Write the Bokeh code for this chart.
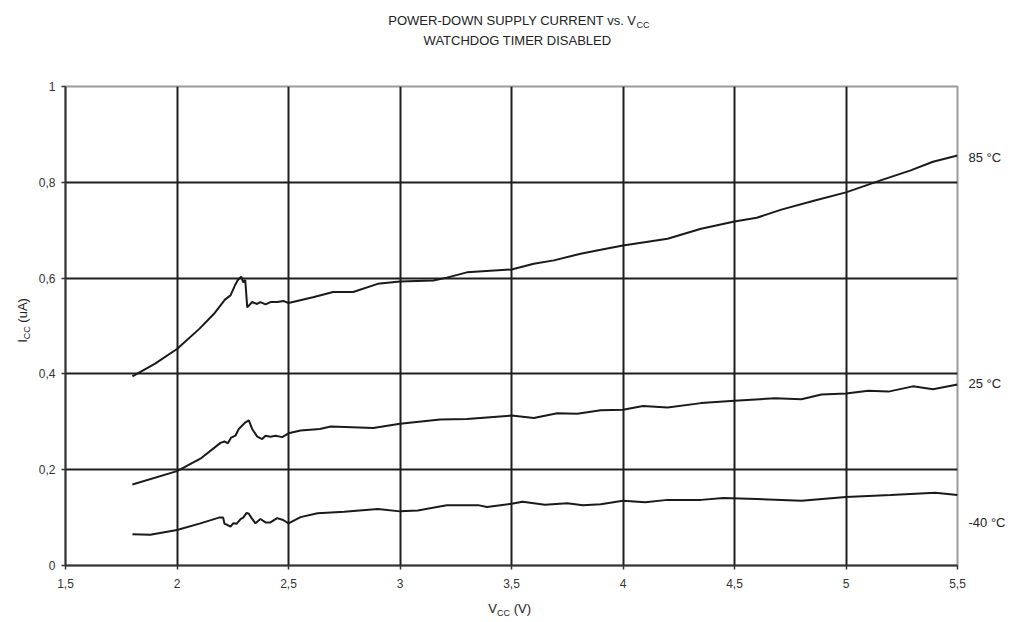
import math
from bokeh.plotting import figure
from bokeh.layouts import column, row
from bokeh.models import Label, FixedTicker, Range1d
from bokeh.embed import file_html
from bokeh.resources import INLINE

# ---- data ----
series_names = ["85 °C", "25 °C", "-40 °C"]

v_85 = [1.80, 1.90, 2.00, 2.10, 2.165, 2.215, 2.24, 2.26, 2.273, 2.288, 2.297, 2.306, 2.315,
        2.337, 2.359, 2.374, 2.397, 2.419, 2.449, 2.479, 2.50, 2.61, 2.70, 2.79, 2.90, 3.00,
        3.15, 3.21, 3.30, 3.50, 3.60, 3.69, 3.81, 3.90, 4.00, 4.20, 4.35, 4.50, 4.60, 4.71,
        4.86, 5.00, 5.155, 5.29, 5.39, 5.50]
i_85 = [0.395, 0.421, 0.452, 0.494, 0.525, 0.555, 0.564, 0.585, 0.596, 0.603, 0.591, 0.596, 0.539,
        0.550, 0.546, 0.550, 0.545, 0.550, 0.550, 0.552, 0.548, 0.560, 0.571, 0.571, 0.588, 0.593,
        0.595, 0.601, 0.612, 0.618, 0.630, 0.637, 0.651, 0.659, 0.668, 0.682, 0.703, 0.718, 0.726,
        0.743, 0.762, 0.779, 0.804, 0.825, 0.843, 0.856]

v_25 = [1.80, 2.00, 2.105, 2.195, 2.213, 2.228, 2.243, 2.262, 2.277, 2.307, 2.322, 2.337, 2.36,
        2.382, 2.397, 2.419, 2.442, 2.472, 2.50, 2.554, 2.64, 2.69, 2.88, 3.00, 3.18, 3.30, 3.50,
        3.60, 3.705, 3.795, 3.90, 4.00, 4.09, 4.20, 4.35, 4.50, 4.68, 4.80, 4.89, 5.00, 5.10,
        5.19, 5.30, 5.39, 5.50]
i_25 = [0.169, 0.197, 0.223, 0.256, 0.259, 0.255, 0.267, 0.271, 0.285, 0.299, 0.303, 0.285, 0.269,
        0.264, 0.271, 0.269, 0.271, 0.268, 0.276, 0.282, 0.285, 0.290, 0.287, 0.296, 0.305, 0.306,
        0.313, 0.308, 0.318, 0.317, 0.324, 0.325, 0.333, 0.330, 0.339, 0.344, 0.349, 0.347, 0.357,
        0.359, 0.365, 0.363, 0.374, 0.368, 0.378]

v_m40 = [1.80, 1.88, 2.00, 2.105, 2.188, 2.207, 2.213, 2.225, 2.24, 2.252, 2.267, 2.285, 2.297,
         2.312, 2.322, 2.333, 2.352, 2.374, 2.397, 2.419, 2.449, 2.476, 2.50, 2.554, 2.63, 2.75,
         2.90, 3.00, 3.08, 3.21, 3.35, 3.39, 3.50, 3.55, 3.65, 3.75, 3.82, 3.90, 4.00, 4.10,
         4.20, 4.35, 4.45, 4.60, 4.80, 5.00, 5.20, 5.40, 5.50]
i_m40 = [0.065, 0.064, 0.074, 0.088, 0.100, 0.100, 0.087, 0.085, 0.081, 0.088, 0.087, 0.097, 0.100,
         0.110, 0.108, 0.100, 0.088, 0.097, 0.090, 0.090, 0.099, 0.095, 0.088, 0.101, 0.109, 0.112,
         0.118, 0.113, 0.115, 0.126, 0.126, 0.122, 0.129, 0.133, 0.127, 0.130, 0.126, 0.128, 0.135,
         0.132, 0.137, 0.137, 0.141, 0.139, 0.135, 0.143, 0.147, 0.152, 0.147]

x_ticks = [1.5, 2, 2.5, 3, 3.5, 4, 4.5, 5, 5.5]
x_tick_labels = ["1,5", "2", "2,5", "3", "3,5", "4", "4,5", "5", "5,5"]
y_ticks = [0, 0.2, 0.4, 0.6, 0.8, 1]
y_tick_labels = ["0", "0,2", "0,4", "0,6", "0,8", "1"]

# series-name label vertical positions (page pixels)
name_page_y = [157, 383, 522]

FONT = "Liberation Sans"
TXT = "#222222"

# ---- page geometry (pixels) ----
TOTAL_W = 1012
TITLE_H = 76          # title strip height
YLAB_W = 31           # y-label strip width
RIGHT_W = 45          # series-name strip width
XLAB_H = 20           # x-label strip height
MB_L, MB_R, MB_T, MB_B = 34, 10, 10, 35
FW, FH = 892, 479
MAIN_W = MB_L + FW + MB_R
MAIN_H = MB_T + FH + MB_B

# ---- main chart ----
p = figure(width=MAIN_W, height=MAIN_H, x_range=Range1d(1.5, 5.5), y_range=Range1d(0, 1),
           output_backend="svg", toolbar_location=None,
           min_border_left=MB_L, min_border_right=MB_R,
           min_border_top=MB_T, min_border_bottom=MB_B)
p.title.visible = False
p.background_fill_color = "white"
p.border_fill_color = "white"
p.outline_line_color = "#9a9a9a"
p.outline_line_width = 2

p.xaxis.ticker = FixedTicker(ticks=x_ticks)
p.yaxis.ticker = FixedTicker(ticks=y_ticks)
p.xaxis.major_label_overrides = {t: l for t, l in zip(x_ticks, x_tick_labels)}
p.yaxis.major_label_overrides = {t: l for t, l in zip(y_ticks, y_tick_labels)}
for ax in (p.xaxis, p.yaxis):
    ax.axis_line_color = "#333333"
    ax.axis_line_width = 2
    ax.major_tick_line_color = "#333333"
    ax.major_tick_line_width = 1.5
    ax.major_tick_out = 4
    ax.major_tick_in = 0
    ax.minor_tick_line_color = None
    ax.major_label_text_font = FONT
    ax.major_label_text_font_size = "12px"
    ax.major_label_text_color = "#333333"
p.xaxis.major_label_standoff = 9
p.yaxis.major_label_standoff = 6

p.xgrid.ticker = FixedTicker(ticks=x_ticks[1:-1])
p.ygrid.ticker = FixedTicker(ticks=y_ticks[1:-1])
for g in (p.xgrid, p.ygrid):
    g.grid_line_color = "#1e1e1e"
    g.grid_line_width = 2

for vx, iy in ((v_85, i_85), (v_25, i_25), (v_m40, i_m40)):
    p.line(vx, iy, line_color="#1a1a1a", line_width=2)


# ---- helper strips whose data coordinates equal page pixels ----
def strip(x0, x1, y0, y1, fy0=None, fy1=None, mb_t=0, mb_b=0):
    # fy0/fy1: page y of the strip's frame top/bottom
    if fy0 is None:
        fy0, fy1 = y0, y1
    f = figure(width=int(x1 - x0), height=int(y1 - y0),
               x_range=Range1d(x0, x1), y_range=Range1d(fy1, fy0),
               x_axis_type=None, y_axis_type=None, output_backend="svg",
               toolbar_location=None, min_border=0, title=None,
               min_border_top=mb_t, min_border_bottom=mb_b)
    f.outline_line_color = None
    f.background_fill_color = "white"
    f.border_fill_color = "white"
    f.xgrid.visible = False
    f.ygrid.visible = False
    return f


def lab(f, x, y, text, size, **kw):
    f.add_layout(Label(x=x, y=y, text=text, text_font=FONT, text_font_size=size,
                       text_color=TXT, text_baseline="middle", **kw))


main_top = TITLE_H
main_bottom = TITLE_H + MAIN_H
main_right = YLAB_W + MAIN_W
frame_top = main_top + MB_T
frame_bottom = frame_top + FH

t = strip(0, TOTAL_W, 0, TITLE_H)
yl = strip(0, YLAB_W, main_top, main_bottom, frame_top, frame_bottom, MB_T, MB_B)
rs = strip(main_right, main_right + RIGHT_W, main_top, main_bottom, frame_top, frame_bottom, MB_T, MB_B)
xl = strip(0, TOTAL_W, main_bottom, main_bottom + XLAB_H)

# title with subscript
main1 = "POWER-DOWN SUPPLY CURRENT vs. V"
w_main1, w_sub = 249.0, 13.0
left1 = 518 - (w_main1 + w_sub) / 2
lab(t, left1 + w_main1, 20, main1, "13px", text_align="right")
lab(t, left1 + w_main1, 24, "CC", "9px", text_align="left")
lab(t, 517, 40, "WATCHDOG TIMER DISABLED", "13px", text_align="center")

# x-axis label V_CC (V)
wx_v, wx_cc, wx_sp, wx_rest = 8.7, 13.0, 3.6, 21.0
left_x = 511 - (wx_v + wx_cc + wx_sp + wx_rest) / 2
lab(xl, left_x, 608, "V", "13px", text_align="left")
lab(xl, left_x + wx_v, 612, "CC", "9px", text_align="left")
lab(xl, left_x + wx_v + wx_cc + wx_sp, 608, "(V)", "13px", text_align="left")

# y-axis label I_CC (uA), rotated
wy_i, wy_cc, wy_sp, wy_rest = 3.6, 13.0, 3.6, 24.5
bottom_y = 320 + (wy_i + wy_cc + wy_sp + wy_rest) / 2
ang = math.pi / 2
lab(yl, 22, bottom_y, "I", "13px", text_align="left", angle=ang)
lab(yl, 26, bottom_y - wy_i, "CC", "9px", text_align="left", angle=ang)
lab(yl, 22, bottom_y - wy_i - wy_cc - wy_sp, "(uA)", "13px", text_align="left", angle=ang)

# series names at right
for name, py in zip(series_names, name_page_y):
    lab(rs, 968, py, name, "13px", text_align="left")

layout = column(t, row(yl, p, rs), xl)
open("out.html", "w").write(file_html(layout, INLINE))
